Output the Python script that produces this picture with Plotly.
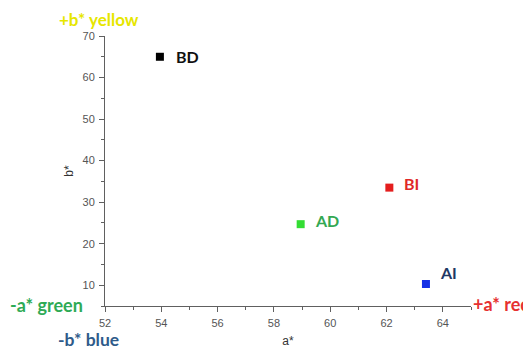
import plotly.graph_objects as go

samples = ["BD", "AD", "BI", "AI"]
a_star = [53.95, 58.95, 62.1, 63.4]
b_star = [65.0, 24.7, 33.5, 10.3]
marker_colors = ["#000000", "#33dd33", "#e41e1e", "#1530e6"]
label_colors = ["#111111", "#33a852", "#e02828", "#1f3864"]
label_dy = [0, 4, 4, 11]
label_dx = [14, 12, 13, 12]

fig = go.Figure()
fig.add_trace(go.Scatter(
    x=a_star, y=b_star, mode="markers",
    marker=dict(symbol="square", size=8, color=marker_colors, line=dict(width=0)),
    showlegend=False, hoverinfo="skip",
))

for s, x, y, c, dy, dx in zip(samples, a_star, b_star, label_colors, label_dy, label_dx):
    fig.add_annotation(x=x, y=y, text=s, showarrow=False, xanchor="left", yanchor="middle",
                       xshift=dx, yshift=dy,
                       font=dict(family="Lato", size=16, color=c, weight="bold"))

corner = dict(showarrow=False, xref="paper", yref="paper", borderpad=0)
fig.add_annotation(x=0, y=1, text="+b* yellow", xanchor="center", yanchor="middle",
                   xshift=-6.5, yshift=17,
                   font=dict(family="Lato", size=17, color="#e6e600", weight="bold"), **corner)
fig.add_annotation(x=0, y=0, text="-a* green", xanchor="right", yanchor="middle",
                   xshift=-21.5, yshift=1.5,
                   font=dict(family="Lato", size=18, color="#2eaa55", weight="bold"), **corner)
fig.add_annotation(x=0, y=0, text="-b* blue", xanchor="center", yanchor="middle",
                   xshift=-17, yshift=-33,
                   font=dict(family="Lato", size=17.5, color="#2f5b8a", weight="bold"), **corner)
fig.add_annotation(x=1, y=0, text="+a* red", xanchor="left", yanchor="middle",
                   xshift=0.5, yshift=2.5,
                   font=dict(family="Lato", size=18, color="#e63030", weight="bold"), **corner)

axis_common = dict(
    showline=True, linecolor="#606060", linewidth=1, showgrid=False, zeroline=False,
    ticks="outside", ticklen=5, tickcolor="#606060", tickwidth=1,
    tickfont=dict(family="Liberation Sans", size=11, color="#555555"),
    mirror=False, ticklabelstandoff=2,
)
fig.update_xaxes(range=[52, 65], dtick=2, tick0=52,
                 minor=dict(dtick=1, tick0=52, ticklen=3, tickcolor="#606060", ticks="outside"),
                 title=dict(text="a*", font=dict(family="Liberation Sans", size=12, color="#333333"), standoff=7.5),
                 **axis_common)
fig.update_yaxes(range=[5, 70], dtick=10, tick0=0,
                 minor=dict(dtick=5, tick0=0, ticklen=3, tickcolor="#606060", ticks="outside"),
                 title=dict(text="b*", font=dict(family="Liberation Sans", size=12, color="#333333"), standoff=5.5),
                 **axis_common)

fig.update_layout(
    width=531, height=349,
    margin=dict(l=96.5, r=67.5, t=27.7, b=50.5, autoexpand=False),
    paper_bgcolor="white", plot_bgcolor="white",
)

fig.write_html("out.html")
